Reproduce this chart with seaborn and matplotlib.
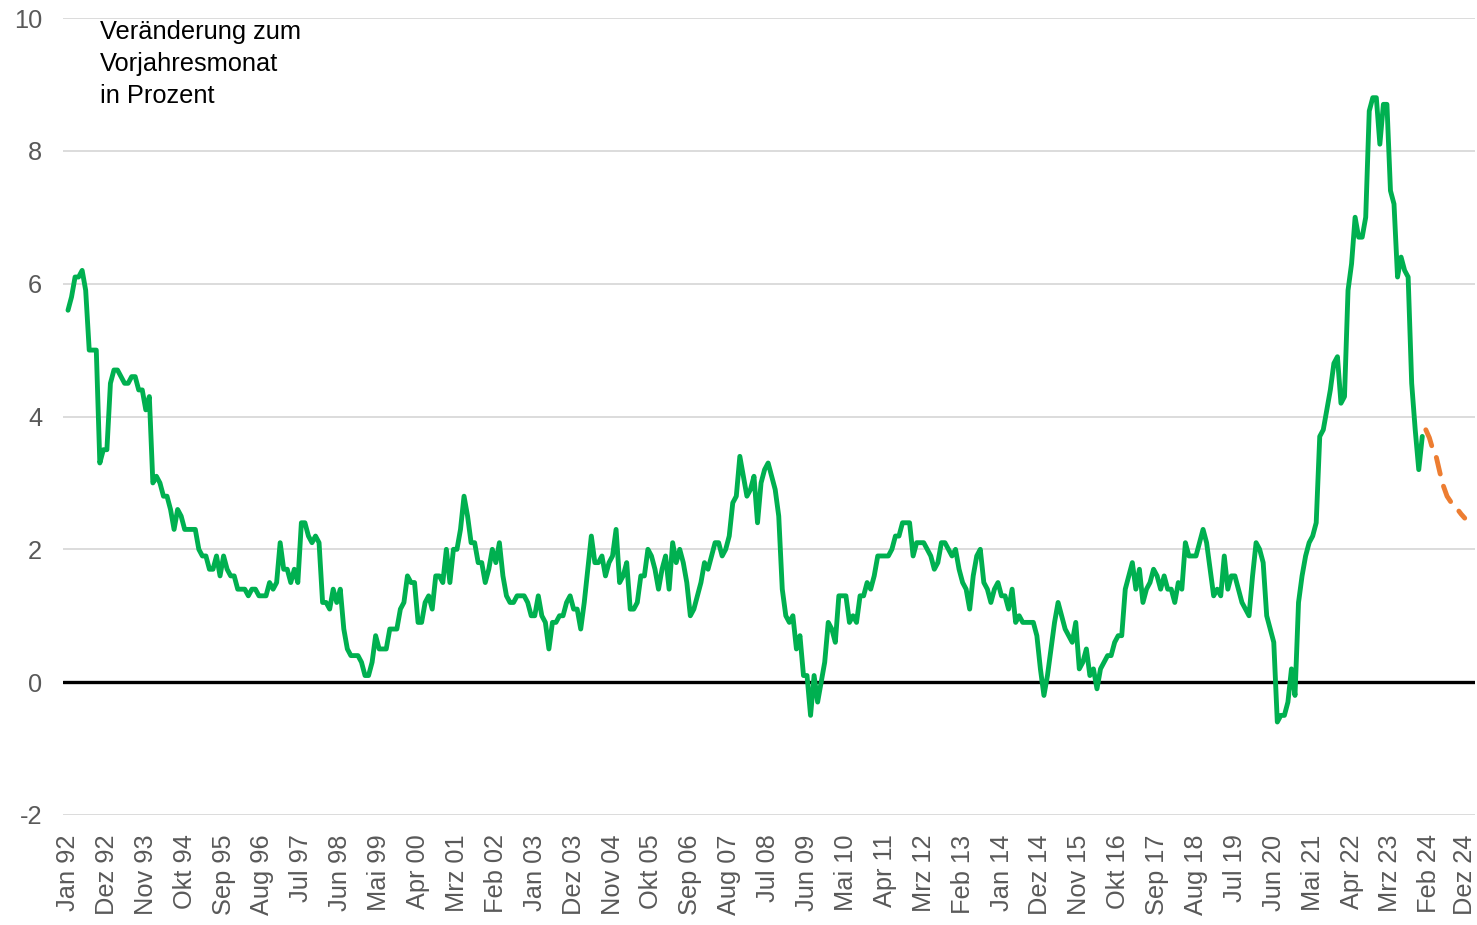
import matplotlib
matplotlib.use("Agg")
import matplotlib.pyplot as plt
import seaborn as sns
import pandas as pd

# ---------------- data ----------------
month_names = ["Jan", "Feb", "Mrz", "Apr", "Mai", "Jun", "Jul", "Aug", "Sep", "Okt", "Nov", "Dez"]
years = list(range(1992, 2025))

inflation_actual = [
    5.6, 5.8, 6.1, 6.1, 6.2, 5.9, 5.0, 5.0, 5.0, 3.3, 3.5, 3.5,   # 1992
    4.5, 4.7, 4.7, 4.6, 4.5, 4.5, 4.6, 4.6, 4.4, 4.4, 4.1, 4.3,   # 1993
    3.0, 3.1, 3.0, 2.8, 2.8, 2.6, 2.3, 2.6, 2.5, 2.3, 2.3, 2.3,   # 1994
    2.3, 2.0, 1.9, 1.9, 1.7, 1.7, 1.9, 1.6, 1.9, 1.7, 1.6, 1.6,   # 1995
    1.4, 1.4, 1.4, 1.3, 1.4, 1.4, 1.3, 1.3, 1.3, 1.5, 1.4, 1.5,   # 1996
    2.1, 1.7, 1.7, 1.5, 1.7, 1.5, 2.4, 2.4, 2.2, 2.1, 2.2, 2.1,   # 1997
    1.2, 1.2, 1.1, 1.4, 1.2, 1.4, 0.8, 0.5, 0.4, 0.4, 0.4, 0.3,   # 1998
    0.1, 0.1, 0.3, 0.7, 0.5, 0.5, 0.5, 0.8, 0.8, 0.8, 1.1, 1.2,   # 1999
    1.6, 1.5, 1.5, 0.9, 0.9, 1.2, 1.3, 1.1, 1.6, 1.6, 1.5, 2.0,   # 2000
    1.5, 2.0, 2.0, 2.3, 2.8, 2.5, 2.1, 2.1, 1.8, 1.8, 1.5, 1.7,   # 2001
    2.0, 1.8, 2.1, 1.6, 1.3, 1.2, 1.2, 1.3, 1.3, 1.3, 1.2, 1.0,   # 2002
    1.0, 1.3, 1.0, 0.9, 0.5, 0.9, 0.9, 1.0, 1.0, 1.2, 1.3, 1.1,   # 2003
    1.1, 0.8, 1.2, 1.7, 2.2, 1.8, 1.8, 1.9, 1.6, 1.8, 1.9, 2.3,   # 2004
    1.5, 1.6, 1.8, 1.1, 1.1, 1.2, 1.6, 1.6, 2.0, 1.9, 1.7, 1.4,   # 2005
    1.7, 1.9, 1.4, 2.1, 1.8, 2.0, 1.8, 1.5, 1.0, 1.1, 1.3, 1.5,   # 2006
    1.8, 1.7, 1.9, 2.1, 2.1, 1.9, 2.0, 2.2, 2.7, 2.8, 3.4, 3.1,   # 2007
    2.8, 2.9, 3.1, 2.4, 3.0, 3.2, 3.3, 3.1, 2.9, 2.5, 1.4, 1.0,   # 2008
    0.9, 1.0, 0.5, 0.7, 0.1, 0.1, -0.5, 0.1, -0.3, 0.0, 0.3, 0.9, # 2009
    0.8, 0.6, 1.3, 1.3, 1.3, 0.9, 1.0, 0.9, 1.3, 1.3, 1.5, 1.4,   # 2010
    1.6, 1.9, 1.9, 1.9, 1.9, 2.0, 2.2, 2.2, 2.4, 2.4, 2.4, 1.9,   # 2011
    2.1, 2.1, 2.1, 2.0, 1.9, 1.7, 1.8, 2.1, 2.1, 2.0, 1.9, 2.0,   # 2012
    1.7, 1.5, 1.4, 1.1, 1.6, 1.9, 2.0, 1.5, 1.4, 1.2, 1.4, 1.5,   # 2013
    1.3, 1.3, 1.1, 1.4, 0.9, 1.0, 0.9, 0.9, 0.9, 0.9, 0.7, 0.2,   # 2014
    -0.2, 0.1, 0.5, 0.9, 1.2, 1.0, 0.8, 0.7, 0.6, 0.9, 0.2, 0.3,  # 2015
    0.5, 0.1, 0.2, -0.1, 0.2, 0.3, 0.4, 0.4, 0.6, 0.7, 0.7, 1.4,  # 2016
    1.6, 1.8, 1.4, 1.7, 1.2, 1.4, 1.5, 1.7, 1.6, 1.4, 1.6, 1.4,   # 2017
    1.4, 1.2, 1.5, 1.4, 2.1, 1.9, 1.9, 1.9, 2.1, 2.3, 2.1, 1.7,   # 2018
    1.3, 1.4, 1.3, 1.9, 1.4, 1.6, 1.6, 1.4, 1.2, 1.1, 1.0, 1.6,   # 2019
    2.1, 2.0, 1.8, 1.0, 0.8, 0.6, -0.6, -0.5, -0.5, -0.3, 0.2, -0.2,  # 2020
    1.2, 1.6, 1.9, 2.1, 2.2, 2.4, 3.7, 3.8, 4.1, 4.4, 4.8, 4.9,   # 2021
    4.2, 4.3, 5.9, 6.3, 7.0, 6.7, 6.7, 7.0, 8.6, 8.8, 8.8, 8.1,   # 2022
    8.7, 8.7, 7.4, 7.2, 6.1, 6.4, 6.2, 6.1, 4.5, 3.8, 3.2, 3.7,   # 2023
]

inflation_forecast = [3.8, 3.68, 3.5, 3.38, 3.15, 2.95, 2.8, 2.72, 2.66, 2.6, 2.53, 2.47]  # 2024

tick_labels = ["Jan 92", "Dez 92", "Nov 93", "Okt 94", "Sep 95", "Aug 96", "Jul 97", "Jun 98",
               "Mai 99", "Apr 00", "Mrz 01", "Feb 02", "Jan 03", "Dez 03", "Nov 04", "Okt 05",
               "Sep 06", "Aug 07", "Jul 08", "Jun 09", "Mai 10", "Apr 11", "Mrz 12", "Feb 13",
               "Jan 14", "Dez 14", "Nov 15", "Okt 16", "Sep 17", "Aug 18", "Jul 19", "Jun 20",
               "Mai 21", "Apr 22", "Mrz 23", "Feb 24", "Dez 24"]

y_ticks = [-2, 0, 2, 4, 6, 8, 10]
annotation = "Veränderung zum\nVorjahresmonat\nin Prozent"

# ---------------- build tables ----------------
all_months = [f"{m} {str(y)[2:]}" for y in years for m in month_names]
n_act = len(inflation_actual)
df_act = pd.DataFrame({"pos": range(n_act), "value": inflation_actual})
df_fc = pd.DataFrame({"pos": range(n_act, n_act + len(inflation_forecast)),
                      "value": inflation_forecast})
tick_pos = [all_months.index(t) for t in tick_labels]

# ---------------- plot ----------------
sns.set_theme(style="white")
plt.rcParams["font.family"] = ["Liberation Sans", "DejaVu Sans"]

W, H = 1477, 925
FS = 18.3
fig = plt.figure(figsize=(W / 100, H / 100), dpi=100)
ax = fig.add_axes([63 / W, 1 - 815 / H, (1475 - 63) / W, (815 - 18) / H])

for yv in y_ticks:
    if yv != 0:
        ax.axhline(yv, color="#d9d9d9", lw=1.3, zorder=0)
ax.axhline(0, color="black", lw=2.4, zorder=1)

sns.lineplot(data=df_act, x="pos", y="value", ax=ax, color="#00b050", lw=3.5,
             zorder=3, solid_joinstyle="round")
sns.lineplot(data=df_fc, x="pos", y="value", ax=ax, color="#ed7d31", lw=3.5,
             zorder=3, linestyle=(0, (3.5, 2.6)), dash_capstyle="round")

x0 = (63 - 68) / 3.536
x1 = (1475 - 68) / 3.536
ax.set_xlim(x0, x1)
ax.set_ylim(-2, 10)

ax.set_yticks(y_ticks)
ax.set_yticklabels([str(v) for v in y_ticks])
ax.set_xticks(tick_pos)
ax.set_xticklabels(tick_labels, rotation=90)
ax.tick_params(axis="y", length=0, pad=15, labelsize=FS, labelcolor="#595959")
ax.tick_params(axis="x", length=0, pad=14, labelsize=FS, labelcolor="#595959")
ax.set_xlabel("")
ax.set_ylabel("")
for s in ax.spines.values():
    s.set_visible(False)

fig.text(100 / W, 1 - 20 / H, annotation, fontsize=FS, color="black",
         va="top", ha="left", linespacing=1.42)

fig.savefig("out.png", dpi=100)
